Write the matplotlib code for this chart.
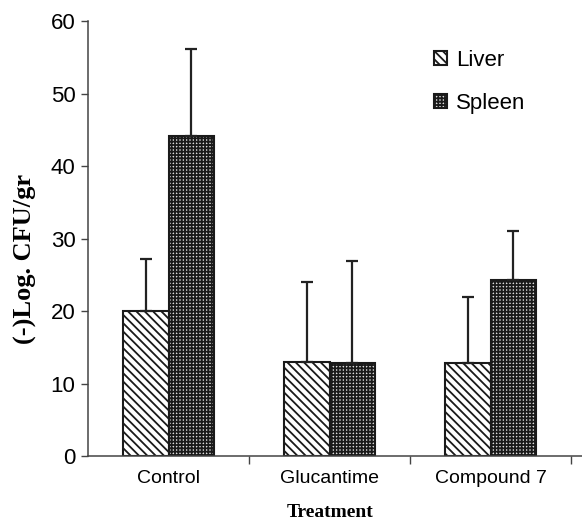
import matplotlib
matplotlib.use("Agg")
import matplotlib.pyplot as plt
import numpy as np

treatments = ["Control", "Glucantime", "Compound 7"]
liver = [20.0, 13.0, 12.8]
liver_err = [7.2, 11.0, 9.2]
spleen = [44.2, 12.8, 24.3]
spleen_err = [11.9, 14.1, 6.8]

plt.rcParams["font.family"] = ["Liberation Sans", "DejaVu Sans"]
plt.rcParams["hatch.linewidth"] = 1.3

fig = plt.figure(figsize=(5.82, 5.23), dpi=100)
ax = fig.add_axes([0.1512, 0.1281, 0.8488, 0.8317])

x = np.arange(len(treatments))
w = 0.285
err_kw = dict(ecolor="#222222", elinewidth=1.6, capsize=4.5, capthick=1.6)
ax.bar(x - w / 2, liver, w, yerr=[np.zeros(3), liver_err], facecolor="white",
       edgecolor="#1a1a1a", linewidth=1.5, hatch="\\\\\\\\", label="Liver",
       error_kw=err_kw)
ax.bar(x + w / 2, spleen, w, yerr=[np.zeros(3), spleen_err], facecolor="#dcdcdc",
       edgecolor="#1a1a1a", linewidth=1.5, hatch="+++++", label="Spleen",
       error_kw=err_kw)

ax.set_xlim(-0.5, 2.568)
ax.set_ylim(0, 60)
ax.set_yticks(range(0, 61, 10))
ax.tick_params(axis="y", labelsize=16, length=5, width=1, color="#444444", pad=4)
ax.set_xticks(x)
ax.set_xticklabels(treatments, fontsize=14)
ax.tick_params(axis="x", length=0, pad=10)
ax.set_xticks([0.5, 1.5, 2.5], minor=True)
ax.tick_params(axis="x", which="minor", length=6, width=1, color="#444444")

for s in ["top", "right"]:
    ax.spines[s].set_visible(False)
for s in ["left", "bottom"]:
    ax.spines[s].set_color("#444444")
    ax.spines[s].set_linewidth(1.1)

ax.set_ylabel("(-)Log. CFU/gr", family=["Liberation Serif"], fontweight="bold",
              fontsize=19)
ax.yaxis.set_label_coords(-0.104, 0.453)
ax.set_xlabel("Treatment", family=["Liberation Serif"], fontweight="bold",
              fontsize=14)
ax.xaxis.set_label_coords(0.49, -0.11)

ax.legend(loc="upper left", bbox_to_anchor=(0.66, 0.98), frameon=False,
          fontsize=16, handlelength=0.6, handleheight=0.6,
          handletextpad=0.4, labelspacing=1.0)

fig.savefig("out.png", dpi=100)
